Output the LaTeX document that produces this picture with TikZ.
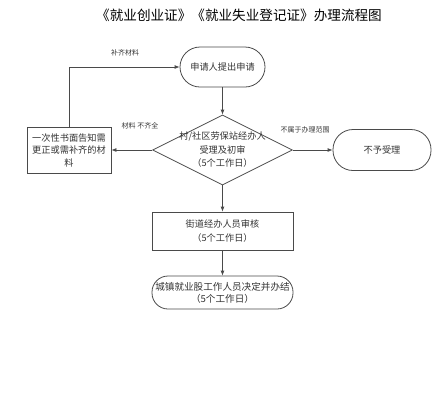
\documentclass[tikz,border=0pt]{standalone}
\usepackage{fontspec}
\setmainfont{Noto Sans CJK SC}
\usetikzlibrary{shapes.geometric,arrows.meta}
\definecolor{ln}{HTML}{4A4A4A}
\definecolor{tx}{HTML}{333333}
\tikzset{
  every node/.style={text=tx},
  flow/.style={draw=ln, line width=0.8pt, -{Latex[length=5pt,width=4pt]}},
  boxnode/.style={draw=ln, line width=0.8pt, rectangle, align=center, inner sep=0pt, font=\fontsize{9.2}{12.5}\selectfont},
  stadium/.style={boxnode, rounded corners=#1},
  dia/.style={draw=ln, line width=0.8pt, diamond, inner sep=0pt, minimum width=140pt, minimum height=70pt},
  txt/.style={align=center, inner sep=0pt, font=\fontsize{9.2}{13.5}\selectfont},
  lbl/.style={inner sep=0pt, font=\fontsize{7}{8}\selectfont},
}
\begin{document}
\begin{tikzpicture}[x=1pt,y=-1pt]
\useasboundingbox (0,0) rectangle (438,400);
\node[inner sep=0pt, text=black, font=\fontsize{13.6}{16}\selectfont] (title) at (239,15) {《就业创业证》《就业失业登记证》办理流程图};
\node[stadium=20pt, minimum width=85pt, minimum height=40pt] (start) at (222.5,67) {申请人提出申请};
\node[dia] (d) at (222.5,150) {};
\node[txt] (dtext) at (222.5,150) {村/社区劳保站经办人\\受理及初审\\（5个工作日）};
\node[boxnode, minimum width=84pt, minimum height=46pt] (left) at (69,150) {一次性书面告知需\\更正或需补齐的材\\料};
\node[stadium=20pt, minimum width=98pt, minimum height=41pt] (no) at (382,150) {不予受理};
\node[boxnode, minimum width=141pt, minimum height=38pt, font=\fontsize{9.2}{14}\selectfont] (street) at (222.5,231) {街道经办人员审核\\（5个工作日）};
\node[stadium=16pt, minimum width=141pt, minimum height=33pt, font=\fontsize{9.6}{12}\selectfont] (final) at (222.5,292.5) {城镇就业股工作人员决定并办结\\（5个工作日）};
\coordinate (corner) at (left.north |- start.west);
\draw[flow] (start) -- (d);
\draw[flow] (d) -- (street);
\draw[flow] (street) -- (final);
\draw[flow] (d.west) -- (left.east);
\draw[flow] (d.east) -- (no.west);
\draw[flow] (left.north) -- (corner) -- (start.west);
\node[lbl] (l1) at (125,53) {补齐材料};
\node[lbl] (l2) at (140,126) {材料 不齐全};
\node[lbl] (l3) at (305,130) {不属于办理范围};
\end{tikzpicture}
\end{document}
